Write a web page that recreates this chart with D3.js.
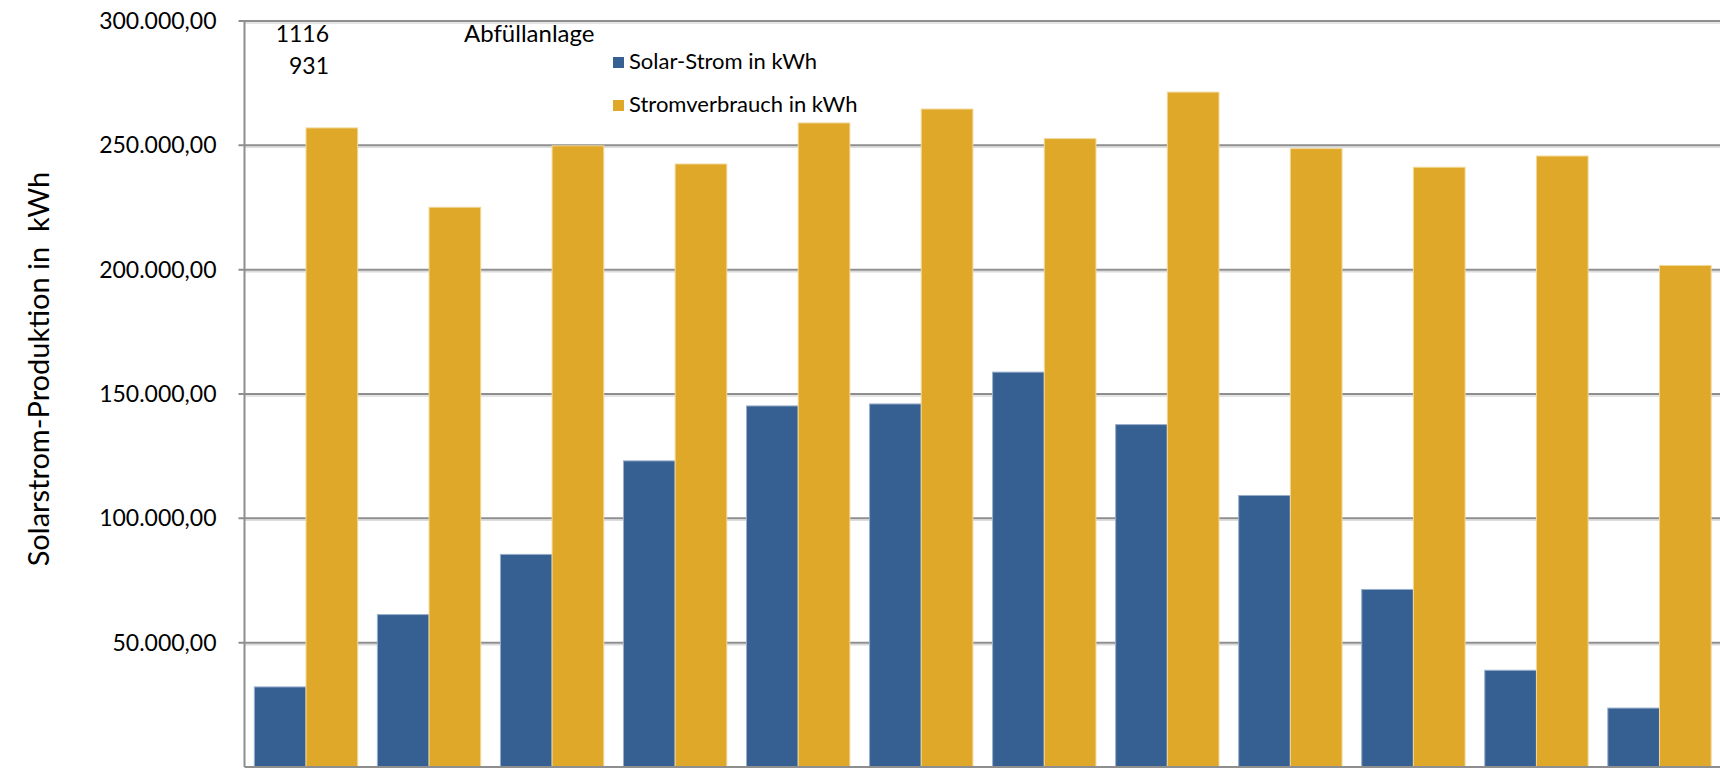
<!DOCTYPE html>
<html>
<head>
<meta charset="utf-8">
<script src="https://cdn.jsdelivr.net/npm/d3@7"></script>
<style>
  body { margin: 0; background: #fff; }
  text { font-family: Lato, "Open Sans", sans-serif; fill: #000; }
</style>
</head>
<body>
<div id="container"></div>
<script>
// months (labels are outside the visible crop)
var months = ["Jan", "Feb", "Mär", "Apr", "Mai", "Jun", "Jul", "Aug", "Sep", "Okt", "Nov", "Dez"];

var solar = [32200, 61300, 85500, 123100, 145200, 146000, 158800, 137700, 109200, 71400, 38900, 23700];
var verbrauch = [257000, 225100, 249800, 242500, 259000, 264600, 252700, 271400, 248700, 241200, 245700, 201700];

var series = ["Solar-Strom in kWh", "Stromverbrauch in kWh"];
var yTicks = [50000, 100000, 150000, 200000, 250000, 300000];
var notes = ["1116", "931", "Abfüllanlage"];

var color = ["#376092", "#dfa828"],
    edge = ["#9aaecb", "#f2d89b"];

var svg_width = 1720,
    svg_height = 768;

// "top" is taken by window.top, so plot edges get a prefix
var plot_left = 244.5,
    plot_right = 1721,
    plot_top = 21,
    plot_bottom = 767;

var x = d3.scaleBand()
    .domain(months)
    .range([plot_left, plot_right])
    .paddingInner(0.16)
    .paddingOuter(0.08);

var x1 = d3.scaleBand()
    .domain(series)
    .range([0, x.bandwidth()]);

var y = d3.scaleLinear()
    .domain([0, 300000])
    .range([plot_bottom, plot_top]);

var de = d3.formatLocale({ decimal: ",", thousands: ".", grouping: [3], currency: ["", "€"] });
var fmt = de.format(",.2f");

var svg = d3.select("#container").append("svg")
    .attr("width", svg_width)
    .attr("height", svg_height);

// gridlines, dark line with a light one under it
svg.selectAll(".grid2")
    .data(yTicks)
    .enter().append("line")
    .attr("x1", plot_left).attr("x2", svg_width)
    .attr("y1", d => y(d) + 2).attr("y2", d => y(d) + 2)
    .style("stroke", "#dcdcdc").style("stroke-width", 1.5);

svg.selectAll(".grid")
    .data(yTicks)
    .enter().append("line")
    .attr("x1", plot_left - 6).attr("x2", svg_width)
    .attr("y1", d => y(d)).attr("y2", d => y(d))
    .style("stroke", "#8e8e8e").style("stroke-width", 2);

// bars
var groups = svg.selectAll(".month")
    .data(months)
    .enter().append("g")
    .attr("class", "month")
    .attr("transform", d => "translate(" + x(d) + ",0)");

groups.selectAll("rect")
    .data((d, i) => [{ s: series[0], v: solar[i], k: 0 }, { s: series[1], v: verbrauch[i], k: 1 }])
    .enter().append("rect")
    .attr("x", d => x1(d.s))
    .attr("y", d => y(d.v))
    .attr("width", x1.bandwidth())
    .attr("height", d => plot_bottom - y(d.v))
    .style("fill", d => color[d.k])
    .style("stroke", d => edge[d.k])
    .style("stroke-width", 1);

// y axis
var yAxis = d3.axisLeft(y)
    .tickValues(yTicks)
    .tickFormat(fmt)
    .tickSize(0)
    .tickPadding(28);

var ax = svg.append("g")
    .attr("transform", "translate(" + plot_left + ",0)")
    .call(yAxis);
ax.select(".domain").remove();
ax.selectAll("text")
    .style("font-size", "23px")
    .style("font-family", "Lato, sans-serif")
    .attr("fill", "#000");

svg.append("line")
    .attr("x1", plot_left).attr("x2", plot_left)
    .attr("y1", plot_top).attr("y2", plot_bottom)
    .style("stroke", "#8e8e8e").style("stroke-width", 2);

svg.append("line")
    .attr("x1", plot_left).attr("x2", svg_width)
    .attr("y1", plot_bottom).attr("y2", plot_bottom)
    .style("stroke", "#8e8e8e").style("stroke-width", 2);

// axis title
svg.append("text")
    .attr("transform", "translate(49," + ((plot_top + plot_bottom) / 2 - 25) + ") rotate(-90)")
    .attr("text-anchor", "middle")
    .style("font-size", "29px")
    .style("white-space", "pre")
    .text("Solarstrom-Produktion in\u00a0 kWh");

// notes top left
svg.append("text").attr("x", 329).attr("y", 42).attr("text-anchor", "end")
    .style("font-size", "23px").text(notes[0]);
svg.append("text").attr("x", 329).attr("y", 74).attr("text-anchor", "end")
    .style("font-size", "23px").text(notes[1]);
svg.append("text").attr("x", 464).attr("y", 42)
    .style("font-size", "24px").text(notes[2]);

// legend
var legend = svg.selectAll(".legend")
    .data(series)
    .enter().append("g")
    .attr("class", "legend")
    .attr("transform", (d, i) => "translate(613," + (57 + i * 43) + ")");

legend.append("rect")
    .attr("width", 11).attr("height", 11)
    .style("fill", (d, i) => color[i]);

legend.append("text")
    .attr("x", 16).attr("y", 11.5)
    .style("font-size", "22px")
    .text(d => d);
</script>
</body>
</html>
